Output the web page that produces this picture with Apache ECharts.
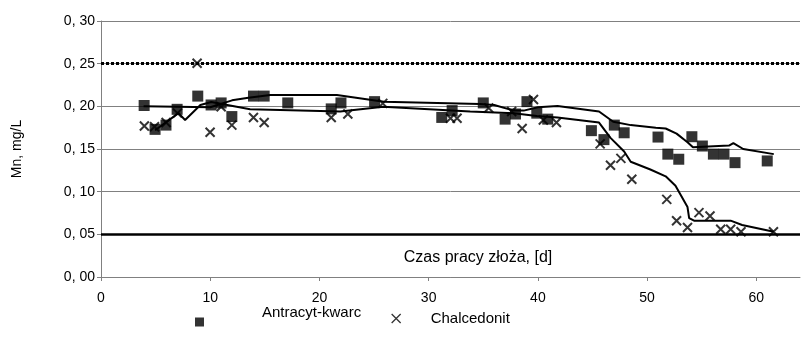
<!DOCTYPE html>
<html><head><meta charset="utf-8">
<script src="https://cdn.jsdelivr.net/npm/echarts@6/dist/echarts.min.js"></script>
<style>html,body{margin:0;padding:0;background:#fff}#c{width:803px;height:350px}</style>
</head><body><div id="c"></div>
<script>
// Data
const antracytX = [3.95,4.95,5.95,6.97,8.86,10.08,11.0,11.98,13.96,14.94,17.1,21.08,21.97,25.05,31.2,32.15,35.0,37.0,37.95,39.0,39.9,40.9,44.9,46.05,47.0,47.9,51.0,51.9,52.9,54.1,55.06,56.07,57.04,58.05,61.0];
const antracytY = [0.201,0.173,0.178,0.1965,0.212,0.2016,0.204,0.188,0.212,0.212,0.204,0.197,0.204,0.2055,0.187,0.195,0.204,0.185,0.191,0.2055,0.192,0.185,0.1715,0.161,0.178,0.169,0.164,0.144,0.138,0.1644,0.1535,0.144,0.144,0.134,0.136];
const chalX = [3.97,4.9,5.96,7.0,8.8,9.99,11.0,11.98,13.96,14.94,21.08,22.6,25.8,32.0,32.6,35.5,37.6,38.56,39.6,40.5,41.7,45.7,46.65,47.6,48.6,51.8,52.7,53.7,54.75,55.76,56.74,57.65,58.6,61.57];
const chalY = [0.177,0.176,0.181,0.192,0.2505,0.1696,0.1996,0.178,0.187,0.181,0.187,0.191,0.2035,0.186,0.186,0.198,0.194,0.174,0.208,0.184,0.181,0.156,0.131,0.139,0.1145,0.091,0.066,0.058,0.0754,0.0715,0.056,0.056,0.053,0.053];
const trendAX = [3.9,10.0,12.0,13.5,15.5,21.6,25.9,34.7,36.0,37.8,38.7,40.0,41.8,45.6,46.9,48.5,50.8,51.7,52.7,53.7,54.2,57.5,57.9,58.8,61.6];
const trendAY = [0.200,0.199,0.207,0.210,0.2133,0.2133,0.2055,0.2027,0.2016,0.195,0.195,0.199,0.2004,0.194,0.182,0.178,0.175,0.174,0.168,0.158,0.152,0.154,0.157,0.150,0.144];
const trendCX = [4.95,7.1,7.7,9.1,10.1,13.65,21.9,25.85,33.8,37.8,39.9,41.8,45.6,46.65,47.9,48.5,50.3,51.7,52.6,53.7,53.85,54.3,57.65,58.7,61.6];
const trendCY = [0.172,0.192,0.184,0.2016,0.205,0.1965,0.194,0.1996,0.194,0.192,0.1887,0.187,0.181,0.163,0.147,0.135,0.126,0.118,0.107,0.082,0.069,0.066,0.066,0.061,0.053];
const limitUpper = 0.2465;
const limitLower = 0.05;
const seriesNames = ['Antracyt-kwarc','Chalcedonit'];
const yTitle = 'Mn, mg/L';
const xTitle = 'Czas pracy złoża, [d]';

const zip = (xs, ys) => xs.map((x, i) => [x, ys[i]]);
const FONT = 'Liberation Sans, Arial, sans-serif';
const crossPath = 'path://M0,0L10,10M10,0L0,10';

const chart = echarts.init(document.getElementById('c'), null, {renderer: 'canvas'});
chart.setOption({
  animation: false,
  backgroundColor: '#fff',
  grid: {left: 101, right: 3, top: 21, bottom: 73, containLabel: false},
  legend: [
    {data: [{name: seriesNames[0], icon: 'rect'}], left: 190, top: 300, itemWidth: 9, itemHeight: 9,
     formatter: n => '{g|}{t|' + n + '}',
     textStyle: {fontFamily: FONT, fontSize: 15, color: '#000',
       rich: {g: {width: 53}, t: {fontFamily: FONT, fontSize: 15, color: '#000', padding: [0,0,19,0]}}}},
    {data: [{name: seriesNames[1], icon: crossPath}], left: 386, top: 306, itemWidth: 9, itemHeight: 9,
     itemStyle: {color: 'transparent', borderColor: '#000', borderWidth: 1.3},
     formatter: n => '{g|}{t|' + n + '}',
     textStyle: {fontFamily: FONT, fontSize: 15, color: '#000',
       rich: {g: {width: 25}, t: {fontFamily: FONT, fontSize: 15, color: '#000'}}}}
  ],
  xAxis: {
    type: 'value', min: 0, max: 64, interval: 10,
    axisLine: {lineStyle: {color: '#808080', width: 1}},
    axisTick: {show: true, length: 4, lineStyle: {color: '#808080'}},
    axisLabel: {fontFamily: FONT, fontSize: 14, color: '#000', margin: 14,
      showMaxLabel: false},
    splitLine: {show: false}
  },
  yAxis: {
    type: 'value', min: 0, max: 0.3, interval: 0.05,
    name: yTitle, nameLocation: 'middle', nameGap: 77, nameRotate: 90,
    nameTextStyle: {fontFamily: FONT, fontSize: 14, color: '#000'},
    axisLine: {show: true, lineStyle: {color: '#808080', width: 1}},
    axisTick: {show: true, length: 4, lineStyle: {color: '#808080'}},
    axisLabel: {fontFamily: FONT, fontSize: 14, color: '#000', margin: 6,
      formatter: v => v.toFixed(2).replace('.', ', ')},
    splitLine: {show: true, lineStyle: {color: '#808080', width: 1}}
  },
  graphic: [{type: 'text', x: 478, y: 250,
    style: {text: xTitle, align: 'center', fontFamily: FONT, fontSize: 16, fill: '#000'}}],
  series: [
    {name: 'limits', type: 'line', data: [], silent: true,
     markLine: {symbol: 'none', silent: true, label: {show: false},
       data: [
         {yAxis: limitUpper, lineStyle: {color: '#000', width: 3, type: [3, 2]}},
         {yAxis: limitLower, lineStyle: {color: '#000', width: 2.5, type: 'solid'}}
       ]}},
    {name: 'trendA', type: 'line', data: zip(trendAX, trendAY), showSymbol: false, silent: true,
     lineStyle: {color: '#000', width: 2}},
    {name: 'trendC', type: 'line', data: zip(trendCX, trendCY), showSymbol: false, silent: true,
     lineStyle: {color: '#000', width: 2}},
    {name: seriesNames[0], type: 'scatter', data: zip(antracytX, antracytY), symbol: 'rect', symbolSize: 11,
     itemStyle: {color: '#000'}},
    {name: seriesNames[1], type: 'scatter', data: zip(chalX, chalY), symbol: crossPath, symbolSize: 9,
     itemStyle: {color: 'transparent', borderColor: '#000', borderWidth: 2}}
  ]
});
</script></body></html>
